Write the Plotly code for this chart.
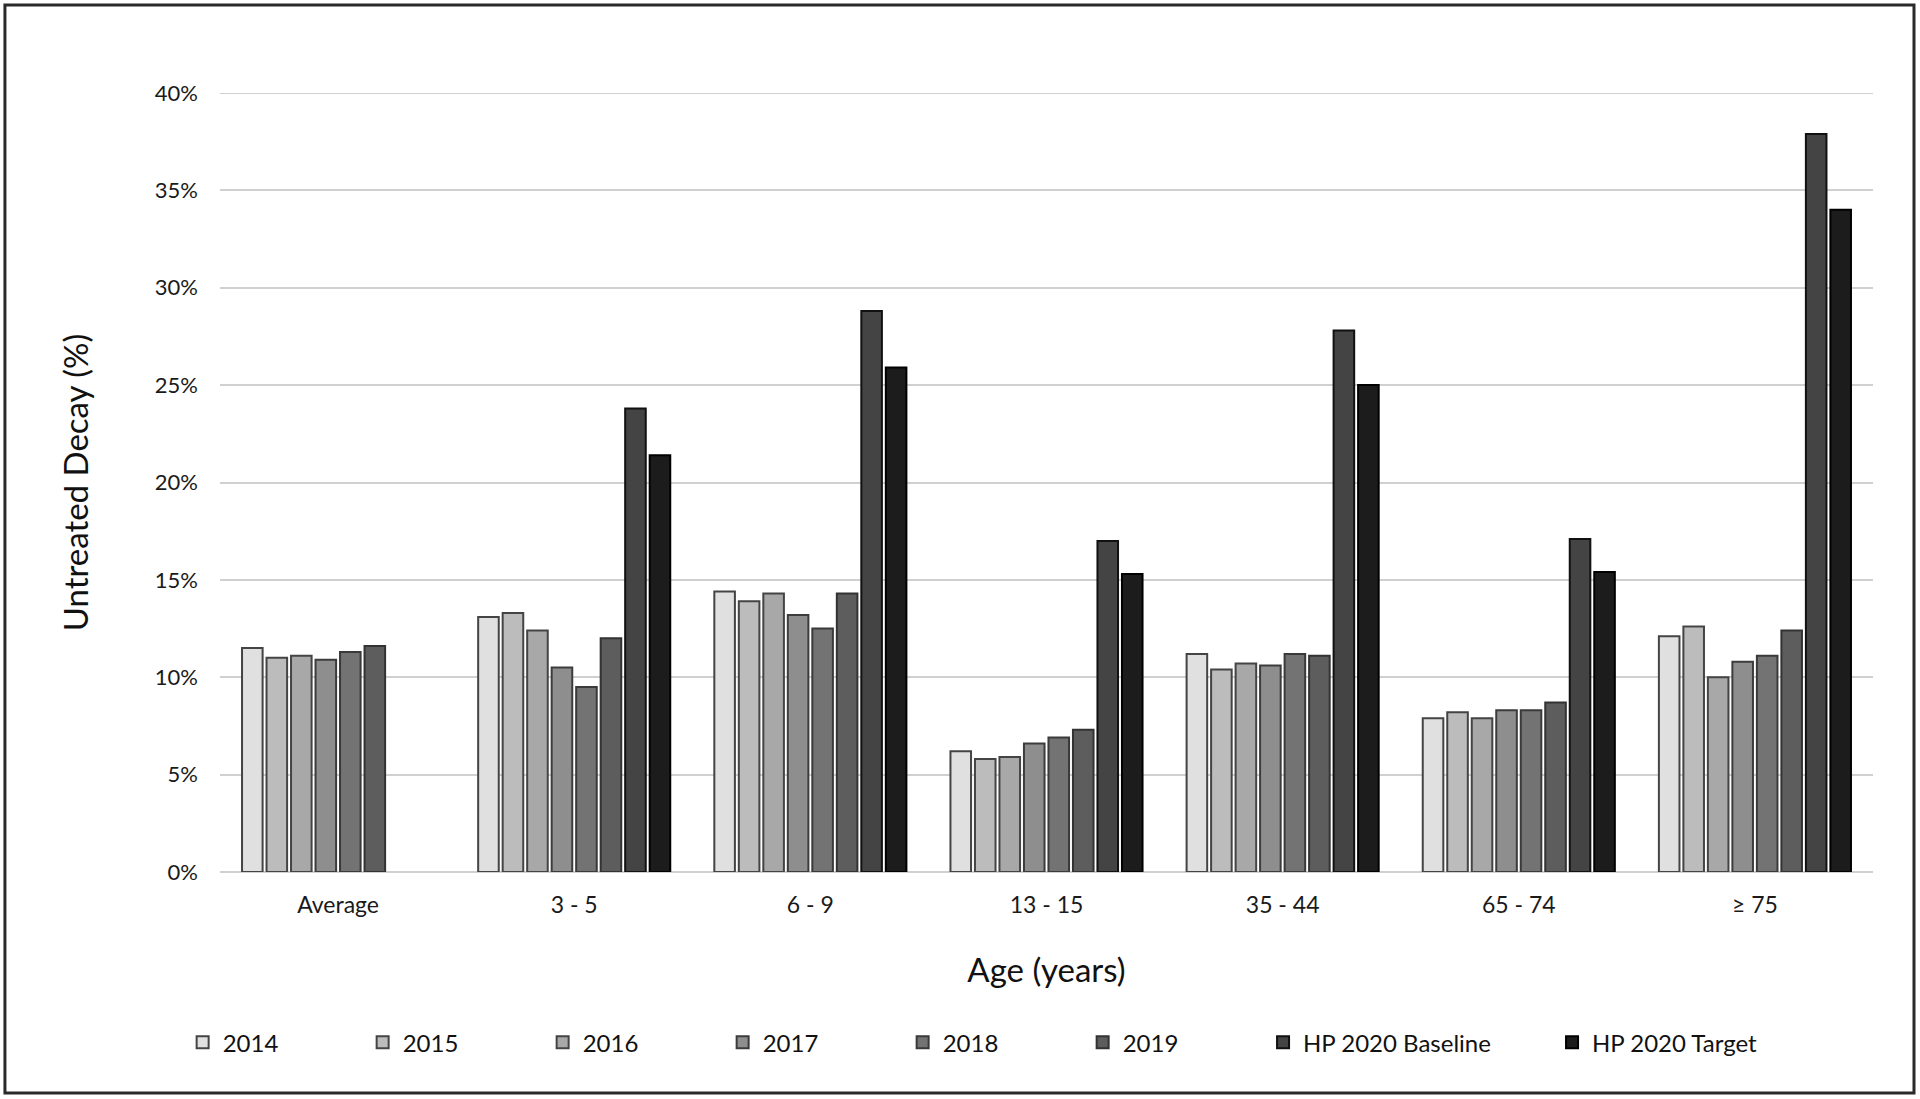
import plotly.graph_objects as go

categories = ["Average", "3 - 5", "6 - 9", "13 - 15", "35 - 44", "65 - 74", "≥ 75"]

y2014 = [11.5, 13.1, 14.4, 6.2, 11.2, 7.9, 12.1]
y2015 = [11.0, 13.3, 13.9, 5.8, 10.4, 8.2, 12.6]
y2016 = [11.1, 12.4, 14.3, 5.9, 10.7, 7.9, 10.0]
y2017 = [10.9, 10.5, 13.2, 6.6, 10.6, 8.3, 10.8]
y2018 = [11.3, 9.5, 12.5, 6.9, 11.2, 8.3, 11.1]
y2019 = [11.6, 12.0, 14.3, 7.3, 11.1, 8.7, 12.4]
hp_baseline = [None, 23.8, 28.8, 17.0, 27.8, 17.1, 37.9]
hp_target = [None, 21.4, 25.9, 15.3, 25.0, 15.4, 34.0]

series_names = ["2014", "2015", "2016", "2017", "2018", "2019", "HP 2020 Baseline", "HP 2020 Target"]
series_values = [y2014, y2015, y2016, y2017, y2018, y2019, hp_baseline, hp_target]
fill_colors = ["#e0e0e0", "#bcbcbc", "#a8a8a8", "#8e8e8e", "#737373", "#5d5d5d", "#444444", "#1c1c1c"]
line_colors = ["#444444", "#444444", "#444444", "#3c3c3c", "#3a3a3a", "#333333", "#111111", "#000000"]

Y_MAX = 40
FONT = "Lato"

fig = go.Figure()
for i, (name, vals) in enumerate(zip(series_names, series_values)):
    fig.add_trace(go.Bar(
        x=categories, y=vals, name=name,
        marker=dict(color=fill_colors[i], line=dict(color=line_colors[i], width=2)),
        legend="legend2" if name.startswith("HP") else "legend",
    ))

fig.update_layout(
    width=1920, height=1099,
    margin=dict(l=220, r=47, t=93, b=227),
    paper_bgcolor="white", plot_bgcolor="white",
    barmode="group", bargap=0.17, bargroupgap=0.16,
    font=dict(family=FONT, color="#1a1a1a", size=21),
    showlegend=True,
    legend=dict(orientation="h", x=-0.0226, y=-0.219, xanchor="left", yanchor="middle",
                entrywidth=135, entrywidthmode="pixels", itemwidth=30,
                font=dict(family=FONT, size=24, color="#111111"), traceorder="normal"),
    legend2=dict(orientation="h", x=0.631, y=-0.219, xanchor="left", yanchor="middle",
                 entrywidth=244, entrywidthmode="pixels", itemwidth=30,
                 font=dict(family=FONT, size=24, color="#111111"), traceorder="normal"),
    xaxis=dict(
        showgrid=False, showline=False, zeroline=False,
        tickfont=dict(family=FONT, size=23, color="#1a1a1a"),
        ticklabelstandoff=17,
        title=dict(text="Age (years)", font=dict(family=FONT, size=33, color="#111111"), standoff=41),
    ),
    yaxis=dict(
        range=[0, Y_MAX], tick0=0, dtick=5, ticksuffix="%",
        showgrid=True, gridcolor="#d0d0d0", gridwidth=2,
        zeroline=True, zerolinecolor="#d0d0d0", zerolinewidth=2,
        showline=False,
        tickfont=dict(family=FONT, size=22, color="#1a1a1a"),
        ticklabelstandoff=21,
        title=dict(text="Untreated Decay (%)", font=dict(family=FONT, size=33, color="#111111"), standoff=56),
    ),
    shapes=[
        dict(type="line", xref="paper", yref="y", x0=0, x1=1, y0=Y_MAX, y1=Y_MAX,
             line=dict(color="#d0d0d0", width=2), layer="below"),
        dict(type="rect", xref="paper", yref="paper",
             x0=-0.1301, x1=1.0248, y0=-0.2837, y1=1.113,
             line=dict(color="#2a2a2a", width=3), fillcolor="rgba(0,0,0,0)", layer="below"),
    ],
)

fig.write_html("out.html", config={"displayModeBar": False},
               post_script="document.body.style.margin='0';document.body.style.overflow='hidden';")
